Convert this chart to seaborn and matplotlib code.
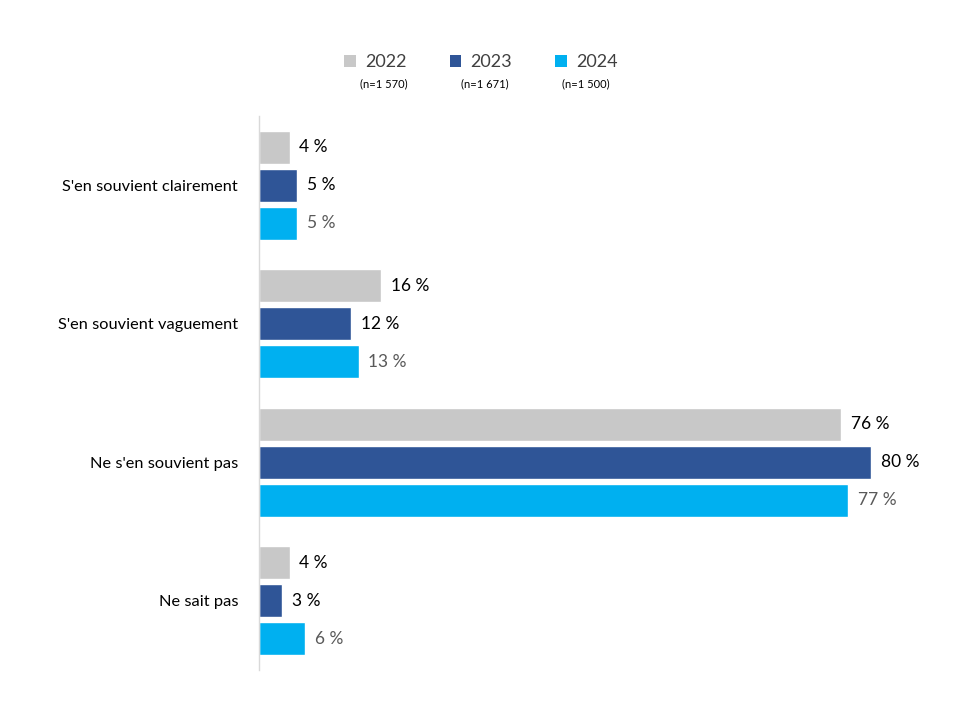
import matplotlib
matplotlib.use("Agg")
import matplotlib.pyplot as plt
import seaborn as sns
import pandas as pd
from matplotlib.patches import Patch

categories = ["S'en souvient clairement", "S'en souvient vaguement", "Ne s'en souvient pas", "Ne sait pas"]
years = ["2022", "2023", "2024"]
sample_sizes = ["(n=1 570)", "(n=1 671)", "(n=1 500)"]
values_2022 = [4, 16, 76, 4]
values_2023 = [5, 12, 80, 3]
values_2024 = [5, 13, 77, 6]

colors = ["#C8C8C8", "#2F5597", "#00B0F0"]
label_colors = ["#000000", "#000000", "#595959"]

rows = []
for yr, vals in zip(years, [values_2022, values_2023, values_2024]):
    for c, v in zip(categories, vals):
        rows.append({"cat": c, "year": yr, "val": v})
df = pd.DataFrame(rows)

sns.set_theme(style="white")
plt.rcParams['font.family'] = ['Lato', 'DejaVu Sans']

fig = plt.figure(figsize=(9.6, 7.2), dpi=100)
ax = fig.add_axes([259/960, 1 - 670/720, (948-259)/960, 554/720])

sns.barplot(data=df, y="cat", x="val", hue="year", order=categories, hue_order=years,
            palette=colors, orient="h", width=0.825, gap=0.13, ax=ax, legend=False,
            errorbar=None, saturation=1)

ax.set_xlim(0, 90)
ax.set_ylim(3.5, -0.5)
ax.set_xlabel("")
ax.set_ylabel("")
ax.set_xticks([])
for s in ["top", "right", "bottom"]:
    ax.spines[s].set_visible(False)
ax.spines["left"].set_color("#D9D9D9")
ax.spines["left"].set_linewidth(1)
ax.tick_params(axis="y", length=0, pad=15, labelsize=11.8, labelcolor="#000000")

for cont, lc in zip(ax.containers, label_colors):
    ax.bar_label(cont, labels=[f"{int(v)} %" for v in cont.datavalues], padding=7,
                 fontsize=12.5, color=lc)

handles = [Patch(facecolor=c, edgecolor="none") for c in colors]
leg = fig.legend(handles, years, loc="center", bbox_to_anchor=(481/960, 1 - 62/720), ncol=3,
                 frameon=False, fontsize=13, handlelength=0.65, handleheight=0.65,
                 handletextpad=0.5, columnspacing=2.4, labelcolor="#404040")
for x, t in zip([384, 485, 586], sample_sizes):
    fig.text(x/960, 1 - 84/720, t, ha="center", va="center", fontsize=8, color="#000000")

fig.savefig("out.png", dpi=100)
